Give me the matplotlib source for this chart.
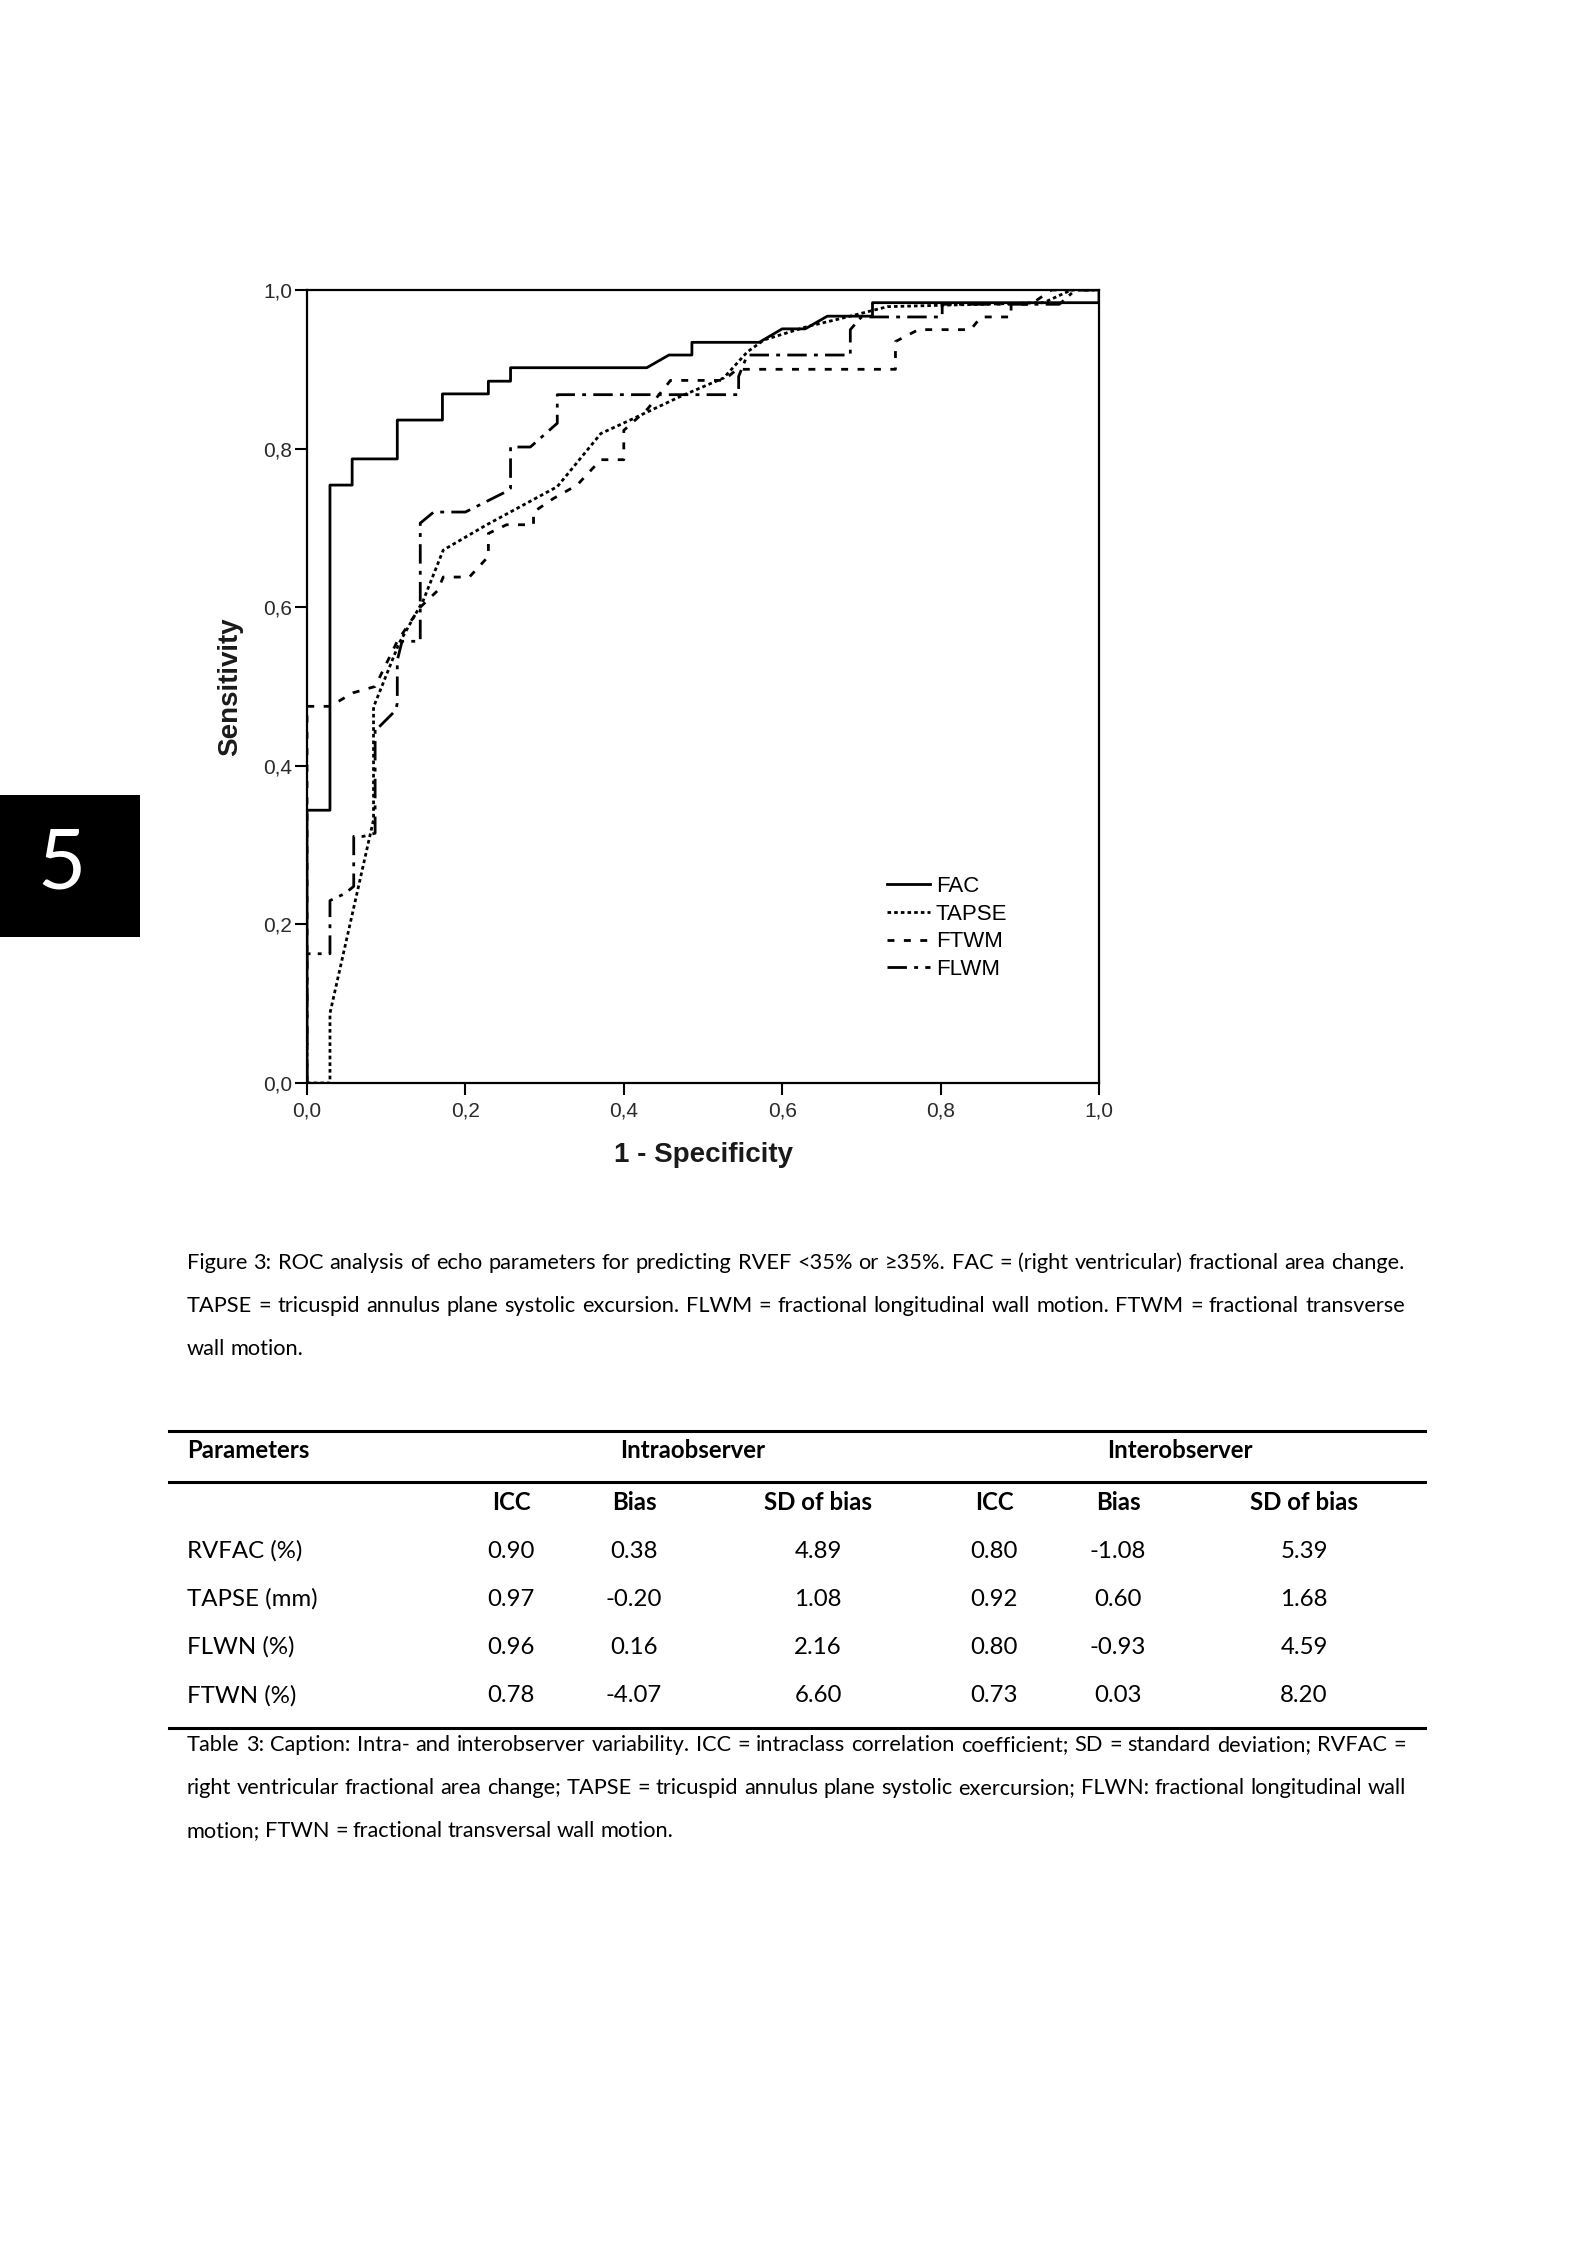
import matplotlib
matplotlib.use("Agg")
import matplotlib.pyplot as plt
from matplotlib.lines import Line2D
from matplotlib.patches import Rectangle

# ROC curves (1 - specificity, sensitivity)
fpr_fac = [0, 0, 0.029, 0.029, 0.057, 0.057, 0.114, 0.114, 0.171, 0.171, 0.229, 0.229, 0.257,
           0.257, 0.429, 0.457, 0.486, 0.486, 0.571, 0.600, 0.629, 0.657, 0.714, 0.714, 1.0, 1.0]
tpr_fac = [0, 0.344, 0.344, 0.754, 0.754, 0.787, 0.787, 0.836, 0.836, 0.869, 0.869, 0.885, 0.885,
           0.902, 0.902, 0.918, 0.918, 0.934, 0.934, 0.951, 0.951, 0.967, 0.967, 0.984, 0.984, 1.0]

fpr_tapse = [0, 0.029, 0.029, 0.084, 0.084, 0.116, 0.147, 0.172, 0.227, 0.316, 0.371, 0.408,
             0.472, 0.526, 0.556, 0.577, 0.632, 0.674, 0.733, 0.930, 0.965, 1.0]
tpr_tapse = [0, 0, 0.088, 0.332, 0.474, 0.554, 0.609, 0.672, 0.704, 0.752, 0.819, 0.836,
             0.866, 0.889, 0.922, 0.937, 0.954, 0.964, 0.979, 0.984, 1.0, 1.0]

fpr_ftwm = [0, 0, 0.029, 0.058, 0.086, 0.114, 0.143, 0.165, 0.172, 0.205, 0.229, 0.229, 0.252,
            0.286, 0.286, 0.311, 0.341, 0.371, 0.400, 0.400, 0.430, 0.459, 0.526, 0.543, 0.743,
            0.743, 0.772, 0.838, 0.851, 0.889, 0.889, 0.914, 0.940, 1.0]
tpr_ftwm = [0, 0.475, 0.475, 0.492, 0.500, 0.557, 0.600, 0.621, 0.638, 0.638, 0.664, 0.693, 0.704,
            0.704, 0.720, 0.737, 0.754, 0.786, 0.786, 0.823, 0.850, 0.886, 0.886, 0.900, 0.900,
            0.935, 0.950, 0.950, 0.966, 0.966, 0.982, 0.982, 1.0, 1.0]

fpr_flwm = [0, 0, 0.029, 0.029, 0.048, 0.059, 0.059, 0.071, 0.086, 0.086, 0.091, 0.112, 0.114,
            0.114, 0.120, 0.143, 0.143, 0.160, 0.200, 0.250, 0.257, 0.257, 0.282, 0.316, 0.316,
            0.545, 0.545, 0.556, 0.686, 0.686, 0.700, 0.802, 0.802, 0.950, 0.970, 1.0]
tpr_flwm = [0, 0.163, 0.163, 0.230, 0.239, 0.248, 0.311, 0.311, 0.315, 0.449, 0.449, 0.470, 0.479,
            0.533, 0.557, 0.557, 0.706, 0.720, 0.720, 0.745, 0.750, 0.802, 0.802, 0.832, 0.868,
            0.868, 0.891, 0.918, 0.918, 0.950, 0.966, 0.966, 0.982, 0.982, 1.0, 1.0]

ticks = [0, 0.2, 0.4, 0.6, 0.8, 1.0]
tick_labels = ["0,0", "0,2", "0,4", "0,6", "0,8", "1,0"]

# table 3
parameters = ["RVFAC (%)", "TAPSE (mm)", "FLWN (%)", "FTWN (%)"]
icc_intra = [0.90, 0.97, 0.96, 0.78]
bias_intra = [0.38, -0.20, 0.16, -4.07]
sd_intra = [4.89, 1.08, 2.16, 6.60]
icc_inter = [0.80, 0.92, 0.80, 0.73]
bias_inter = [-1.08, 0.60, -0.93, 0.03]
sd_inter = [5.39, 1.68, 4.59, 8.20]

fig_caption = [
    "Figure 3: ROC analysis of echo parameters for predicting RVEF <35% or \u226535%. FAC = (right ventricular) fractional area change.",
    "TAPSE = tricuspid annulus plane systolic excursion. FLWM = fractional longitudinal wall motion. FTWM = fractional transverse",
    "wall motion.",
]
table_caption = [
    "Table 3: Caption: Intra- and interobserver variability. ICC = intraclass correlation coefficient; SD = standard deviation; RVFAC =",
    "right ventricular fractional area change; TAPSE = tricuspid annulus plane systolic exercursion; FLWN: fractional longitudinal wall",
    "motion; FTWN = fractional transversal wall motion.",
]

W, H = 1594, 2250
fig = plt.figure(figsize=(W / 100, H / 100), dpi=100)
fig.patch.set_facecolor("white")
renderer = fig.canvas.get_renderer()
DOC = ["Lato", "DejaVu Sans"]
PLOT = ["Liberation Sans", "DejaVu Sans"]


def fx(px):
    return px / W


def fy(py):
    return 1 - py / H


# chapter tab
fig.patches.append(Rectangle((0, fy(937)), fx(140), (937 - 795) / H, transform=fig.transFigure,
                             facecolor="black", edgecolor="none"))
fig.text(fx(62), fy(866), "5", color="white", fontsize=60, family=DOC,
         ha="center", va="center")

# ROC plot
ax = fig.add_axes([fx(307), fy(1083), (1099 - 307) / W, (1083 - 290) / H])
lw = 2.0
ax.plot(fpr_fac, tpr_fac, color="black", lw=lw, ls="-", label="FAC")
ax.plot(fpr_tapse, tpr_tapse, color="black", lw=lw, ls=(0, (1.3, 1.1)), label="TAPSE")
ax.plot(fpr_ftwm, tpr_ftwm, color="black", lw=lw, ls=(0, (2.5, 3.4)), label="FTWM")
ax.plot(fpr_flwm, tpr_flwm, color="black", lw=lw, ls=(0, (7, 2.6, 1.4, 2.6)), label="FLWM")
ax.set_xlim(0, 1)
ax.set_ylim(0, 1)
ax.set_xticks(ticks)
ax.set_xticklabels(tick_labels)
ax.set_yticks(ticks)
ax.set_yticklabels(tick_labels)
ax.tick_params(direction="out", length=8.5, width=1.5, labelsize=15, labelcolor="#2a2a2a")
ax.tick_params(axis="y", pad=2)
ax.tick_params(axis="x", pad=5)
for t in ax.get_xticklabels() + ax.get_yticklabels():
    t.set_family(PLOT)
for s in ax.spines.values():
    s.set_linewidth(1.6)
ax.set_xlabel("1 - Specificity", fontsize=20, fontweight="bold", family=PLOT, color="#1a1a1a")
ax.set_ylabel("Sensitivity", fontsize=20, fontweight="bold", family=PLOT, color="#1a1a1a")
ax.xaxis.set_label_coords(0.5, (1083 - 1155) / 793)
ax.yaxis.set_label_coords((230 - 307) / 792, 0.5)
ax.xaxis.label.set_va("center")
ax.yaxis.label.set_va("center")
leg = ax.legend(loc="upper left", bbox_to_anchor=((887 - 307) / 792, (1083 - 876) / 793),
                frameon=False, handlelength=1.95, handletextpad=0.25,
                labelspacing=0.3, borderpad=0, borderaxespad=0, prop={"family": PLOT, "size": 16})


def put_line(text, y_px, x0, x1, size, justify=True, weight="normal"):
    words = text.split(" ")
    objs = [fig.text(0, fy(y_px), w, fontsize=size, family=DOC, fontweight=weight, va="center")
            for w in words]
    widths = [o.get_window_extent(renderer).width for o in objs]
    if justify and len(words) > 1:
        gap = (x1 - x0 - sum(widths)) / (len(words) - 1)
    else:
        gap = size * 100 / 72 * 0.23
    x = x0
    for o, w in zip(objs, widths):
        o.set_x(fx(x))
        x += w + gap


# figure caption
csize = 15.7
cap_y = [1263, 1306, 1349]
for i, line in enumerate(fig_caption):
    put_line(line, cap_y[i], 187, 1405, csize, justify=i < 2)

# table rules
for y, lwid in [(1431, 2.2), (1482, 2.2), (1728, 2.2)]:
    fig.add_artist(Line2D([fx(169), fx(1425)], [fy(y), fy(y)], color="black", lw=lwid,
                          transform=fig.transFigure))

tsize = 17.3
fig.text(fx(187), fy(1451), "Parameters", fontsize=tsize, fontweight="bold", family=DOC, va="center")
fig.text(fx(693), fy(1451), "Intraobserver", fontsize=tsize, fontweight="bold", family=DOC,
         va="center", ha="center")
fig.text(fx(1180), fy(1451), "Interobserver", fontsize=tsize, fontweight="bold", family=DOC,
         va="center", ha="center")
col_x = [511, 634, 818, 994, 1118, 1304]
col_names = ["ICC", "Bias", "SD of bias", "ICC", "Bias", "SD of bias"]
for cx, name in zip(col_x, col_names):
    fig.text(fx(cx), fy(1502), name, fontsize=tsize, fontweight="bold", family=DOC,
             va="center", ha="center")

row_y = [1551, 1599, 1647, 1696]
columns = [icc_intra, bias_intra, sd_intra, icc_inter, bias_inter, sd_inter]
for r, name in enumerate(parameters):
    fig.text(fx(187), fy(row_y[r]), name, fontsize=tsize, family=DOC, va="center")
    for cx, col in zip(col_x, columns):
        fig.text(fx(cx), fy(row_y[r]), f"{col[r]:.2f}", fontsize=tsize, family=DOC,
                 va="center", ha="center")

# table caption
tcap_y = [1745, 1788, 1831]
for i, line in enumerate(table_caption):
    put_line(line, tcap_y[i], 187, 1406, csize, justify=i < 2)

fig.savefig("out.png", dpi=100, facecolor="white")
